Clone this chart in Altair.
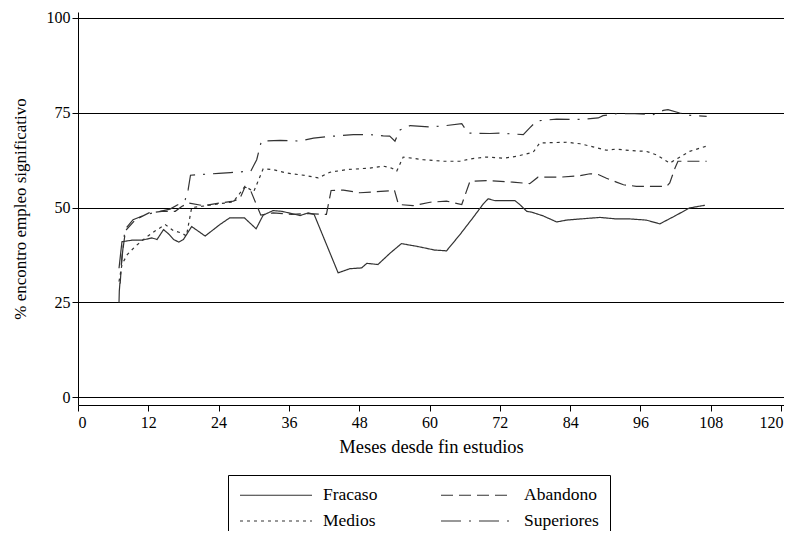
import altair as alt
import pandas as pd

series_names = ["Fracaso", "Abandono", "Medios", "Superiores"]
legend_order = ["Fracaso", "Medios", "Abandono", "Superiores"]

fracaso_m = [7.0, 7.5, 9.2, 10.9, 12.6, 13.5, 14.6, 15.5, 16.3, 17.2, 18.0, 19.4, 21.7, 24.2, 25.9, 28.4, 30.4, 31.6, 33.3, 34.8, 36.5, 37.9, 39.3, 40.3, 44.4, 46.4, 48.4, 49.3, 51.2, 53.2, 55.2, 57.8, 60.9, 62.9, 65.2, 67.4, 69.2, 70.0, 71.2, 74.6, 75.4, 76.6, 77.4, 79.4, 81.7, 83.4, 85.7, 89.1, 91.9, 94.2, 97.0, 99.3, 101.9, 104.4, 107.0]
fracaso_v = [34.0, 41.0, 41.4, 41.4, 42.0, 41.6, 44.2, 43.0, 41.6, 40.9, 41.6, 45.0, 42.5, 45.5, 47.3, 47.3, 44.4, 48.0, 49.2, 49.0, 48.4, 47.9, 48.6, 48.2, 32.8, 33.9, 34.1, 35.3, 35.0, 37.9, 40.5, 39.8, 38.8, 38.6, 42.9, 47.3, 51.0, 52.3, 51.8, 51.8, 50.8, 49.0, 48.8, 47.8, 46.2, 46.7, 47.0, 47.4, 47.0, 47.0, 46.7, 45.7, 47.8, 49.9, 50.6]

abandono_m = [7.2, 7.5, 8.1, 9.8, 12.1, 14.3, 16.6, 17.7, 18.9, 21.4, 24.2, 26.5, 27.6, 28.5, 29.4, 31.2, 33.3, 36.5, 39.3, 42.4, 43.2, 45.3, 48.1, 53.2, 54.0, 54.7, 57.2, 60.1, 62.9, 65.5, 66.9, 69.7, 74.2, 77.1, 78.5, 82.3, 85.7, 87.4, 88.8, 90.2, 91.9, 93.1, 95.3, 100.5, 101.0, 101.9, 102.4, 107.3]
abandono_v = [30.0, 37.0, 43.9, 46.8, 48.6, 49.0, 49.0, 50.3, 51.2, 50.5, 51.2, 51.7, 52.3, 55.4, 54.7, 48.0, 48.6, 48.2, 48.4, 48.2, 54.5, 54.6, 53.9, 54.4, 54.6, 50.8, 50.5, 51.4, 51.7, 50.8, 56.9, 57.1, 56.7, 56.3, 58.0, 58.0, 58.4, 58.9, 58.7, 57.7, 56.7, 56.0, 55.6, 55.6, 56.5, 60.4, 62.2, 62.2]

medios_m = [7.0, 7.5, 8.4, 9.8, 11.5, 13.2, 14.9, 16.3, 17.7, 18.5, 19.4, 21.0, 24.2, 26.5, 27.5, 28.5, 30.0, 31.6, 33.3, 35.6, 39.0, 41.0, 43.0, 45.9, 49.8, 52.1, 53.5, 54.4, 55.5, 58.9, 62.3, 65.2, 66.9, 69.7, 72.6, 74.9, 77.7, 78.8, 83.4, 85.7, 87.9, 90.2, 91.9, 94.2, 97.0, 98.7, 101.0, 102.4, 104.4, 107.3]
medios_v = [30.5, 35.0, 37.6, 39.8, 42.0, 43.9, 45.5, 43.9, 43.3, 42.5, 50.0, 50.3, 51.0, 51.5, 53.5, 55.6, 54.2, 60.2, 60.0, 59.1, 58.4, 57.8, 59.3, 60.0, 60.4, 60.9, 60.4, 59.6, 63.3, 62.6, 62.2, 62.2, 62.8, 63.3, 63.0, 63.5, 64.6, 67.0, 67.2, 66.8, 66.0, 65.1, 65.4, 65.0, 64.8, 63.9, 61.7, 63.0, 64.8, 66.2]

superiores_m = [7.0, 7.05, 7.4, 8.0, 9.4, 11.7, 14.0, 15.7, 17.1, 18.3, 18.8, 19.2, 21.0, 24.0, 26.0, 29.5, 30.5, 31.3, 34.5, 37.9, 40.2, 43.6, 47.0, 49.8, 52.1, 53.2, 54.1, 54.9, 56.7, 60.1, 62.9, 65.5, 66.6, 70.3, 72.0, 76.0, 77.1, 78.3, 81.7, 85.7, 88.8, 89.6, 91.9, 95.0, 98.2, 99.9, 100.7, 102.7, 104.4, 107.3]
superiores_v = [25.0, 28.0, 35.0, 44.2, 46.8, 48.2, 49.0, 49.6, 50.8, 52.1, 54.7, 58.5, 58.7, 59.0, 59.2, 59.6, 62.6, 67.5, 67.7, 67.5, 68.3, 68.8, 69.2, 69.2, 68.9, 68.8, 67.5, 70.4, 71.6, 71.2, 71.6, 72.1, 69.6, 69.5, 69.6, 69.2, 71.0, 72.8, 73.3, 73.2, 73.6, 74.2, 74.7, 74.7, 74.5, 75.6, 75.8, 74.9, 74.3, 74.0]

x_ticks = [0, 12, 24, 36, 48, 60, 72, 84, 96, 108, 120]
y_ticks = [0, 25, 50, 75, 100]

rows = []
for name, ms, vs in [("Fracaso", fracaso_m, fracaso_v), ("Abandono", abandono_m, abandono_v),
                     ("Medios", medios_m, medios_v), ("Superiores", superiores_m, superiores_v)]:
    for i, (m, v) in enumerate(zip(ms, vs)):
        rows.append({"serie": name, "mes": m, "valor": v, "orden": i})
df = pd.DataFrame(rows)

FONT = "Liberation Serif"
INK = "#333333"
dash_for = {"Fracaso": [1, 0], "Abandono": [12, 6], "Medios": [3, 4], "Superiores": [20, 8, 2, 8]}

chart = alt.Chart(df).mark_line(strokeWidth=1.2, color=INK).encode(
    x=alt.X("mes:Q", scale=alt.Scale(domain=[0, 120.5], nice=False, zero=False),
            axis=alt.Axis(values=x_ticks, title="Meses desde fin estudios", grid=False,
                          tickSize=6, labelPadding=3, titlePadding=7, titleFontSize=18.5,
                          labelOffset={"condition": {"test": "datum.value == 120", "value": -10},
                                       "value": 0})),
    y=alt.Y("valor:Q", scale=alt.Scale(domain=[-2, 101.5], nice=False, zero=False),
            axis=alt.Axis(values=y_ticks, title="% encontro empleo significativo", grid=True,
                          tickSize=6, labelPadding=2, titlePadding=17, titleFontSize=17)),
    order="orden:Q",
    strokeDash=alt.StrokeDash("serie:N",
        scale=alt.Scale(domain=legend_order, range=[dash_for[n] for n in legend_order]),
        legend=alt.Legend(title=None, orient="none", legendX=150, legendY=463, columns=2,
                          symbolType="M-1,0H8", symbolSize=256, symbolStrokeWidth=1.2,
                          symbolStrokeColor=INK, symbolFillColor="transparent",
                          labelFont=FONT, labelFontSize=17.5,
                          labelColor="black", labelOffset=66, strokeColor="black",
                          fillColor="white", padding=11, rowPadding=8, columnPadding=60)),
).properties(
    width=706, height=393,
    autosize=alt.AutoSizeParams(type="none"),
    padding={"left": 70, "top": 4, "right": 0, "bottom": 126},
).configure_view(stroke=None).configure_axis(
    domainColor="black", tickColor="black", gridColor="black", gridWidth=1, gridOpacity=1,
    labelFont=FONT, labelFontSize=16, labelColor="black", titleFont=FONT,
    titleFontWeight="normal", titleColor="black", domainWidth=1, tickWidth=1,
)

chart.save("out.html", embed_options={"renderer": "svg", "actions": False})
